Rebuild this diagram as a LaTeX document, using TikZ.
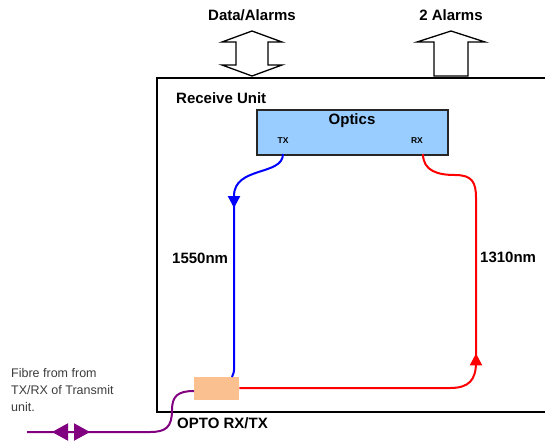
\documentclass[tikz,border=0pt]{standalone}
\usepackage{fontspec}
\setmainfont{Liberation Sans}
\usetikzlibrary{arrows.meta,decorations.markings}
\definecolor{optblue}{RGB}{153,204,255}
\definecolor{peach}{RGB}{250,192,144}
\definecolor{fibre}{RGB}{128,0,128}
\definecolor{txtgray}{RGB}{60,60,60}
\tikzset{
  lbl/.style={font=\fontsize{15}{17}\selectfont\bfseries, inner sep=0pt},
  small/.style={font=\fontsize{8.5}{10}\selectfont\bfseries, inner sep=0pt},
  hollow/.style={draw=black, line width=1.3pt, fill=white, line join=miter},
  fibreline/.style={line width=2pt},
  tipmark/.style={postaction={decorate}},
}
\begin{document}
\begin{tikzpicture}[x=1pt,y=-1pt]
\useasboundingbox (0,0) rectangle (545,442);
% outer unit
\draw[line width=2pt] (546,78) -- (157,78) -- (157,412) -- (546,412);
% hollow arrows
\draw[hollow] (252,31) -- (282,42) -- (268,42) -- (268,65) -- (282,65) -- (252,76)
  -- (222,65) -- (236,65) -- (236,42) -- (222,42) -- cycle;
\draw[hollow] (451,31) -- (485,42) -- (468,42) -- (468,76) -- (434,76) -- (434,42)
  -- (417,42) -- cycle;
\node[lbl] (da) at (252,15) {Data/Alarms};
\node[lbl] (al) at (451,15) {2 Alarms};
\node[lbl, anchor=west] (ru) at (176,98) {Receive Unit};
% optics
\node[draw=black!85, line width=1.8pt, fill=optblue, minimum width=191pt, minimum height=45pt,
  inner sep=0pt, anchor=north west] (optics) at (256,109) {};
\node[lbl] (ot) at (352,121) {Optics};
\node[small] (txl) at (283,141) {TX};
\node[small] (rxl) at (417,141) {RX};
\coordinate (tx) at (283,154);
\coordinate (rx) at (423,154);
% opto block
\node[fill=peach, minimum width=45pt, minimum height=23pt, inner sep=0pt, anchor=north west] (opto) at (194,377) {};
\node[lbl, anchor=west] (optol) at (177,423) {OPTO RX/TX};
% wavelength labels
\node[lbl, anchor=west] (l1550) at (172,258) {1550nm};
\node[lbl, anchor=west] (l1310) at (480,257) {1310nm};
% blue fibre: TX -> OPTO
\draw[blue, fibreline, tipmark, decoration={markings, mark=at position 82pt with {\arrow{Triangle[width=12pt,length=12pt]}}}]
  (tx) .. controls (283,176) and (234,166) .. (234,196) -- (234,370) .. controls (234,374) and (232,375) .. (232,377);
% red fibre: OPTO -> RX
\draw[red, fibreline, tipmark, decoration={markings, mark=at position 262pt with {\arrow{Triangle[width=12pt,length=12pt]}}}]
  (opto.east |- 0,388) -- (450,388) .. controls (469,388) and (476,380) .. (476,362) -- (476,198)
  .. controls (476,182) and (472,175) .. (455,175) .. controls (438,175) and (423,171) .. (rx);
% purple fibre
\coordinate (fibrein) at (27,432);
\draw[fibre, fibreline, tipmark, decoration={markings,
    mark=at position 25pt with {\arrowreversed{Triangle[width=17pt,length=16pt]}},
    mark=at position 63pt with {\arrow{Triangle[width=17pt,length=16pt]}}}]
  (fibrein) -- (150,432) .. controls (166,432) and (172,427) .. (172,410)
  .. controls (172,396) and (178,391) .. (opto.west |- 0,391);
\node[font=\fontsize{12.5}{17}\selectfont, text=txtgray, align=left, anchor=north west, inner sep=0pt] (ftxt) at (11,368)
  {Fibre from from\\TX/RX of Transmit\\unit.};
\end{tikzpicture}
\end{document}
